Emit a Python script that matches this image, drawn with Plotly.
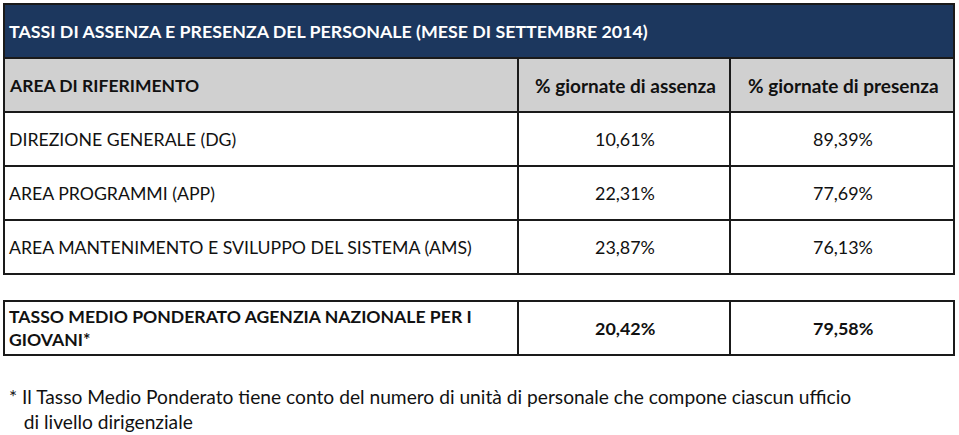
import plotly.graph_objects as go

# ---- data ----
title = "TASSI DI ASSENZA E PRESENZA DEL PERSONALE (MESE DI SETTEMBRE 2014)"
headers = ["AREA DI RIFERIMENTO", "% giornate di assenza", "% giornate di presenza"]
areas = ["DIREZIONE GENERALE (DG)", "AREA PROGRAMMI (APP)",
         "AREA MANTENIMENTO E SVILUPPO DEL SISTEMA (AMS)"]
assenza = [10.61, 22.31, 23.87]
presenza = [89.39, 77.69, 76.13]
total_label = "TASSO MEDIO PONDERATO AGENZIA NAZIONALE PER I<br>GIOVANI*"
total_assenza = 20.42
total_presenza = 79.58
footnote = ("* Il Tasso Medio Ponderato tiene conto del numero di unità di personale che compone ciascun ufficio"
            "<br>   di livello dirigenziale")

def pct(v):
    return f"{v:.2f}".replace(".", ",") + "%"

# ---- layout geometry (pixels) ----
W, H = 959, 435
X0, X1, X2, X3 = 4, 518, 730, 954
Y_TITLE = (4, 58)
Y_HEAD = (58, 112)
ROW_H = 54
Y_DATA0 = 112
Y_TOT = (301, 355)
FONT = "Lato, Open Sans, sans-serif"
FS_CAPS = 17.7
FS_NUM = 17.9
FS_LOW = 19
NAVY = "#1c375e"
GRAY = "#d0d0d0"
LINE = "#1a1a1a"

fig = go.Figure()
shapes = []
ann = []

def rect(x0, y0, x1, y1, fill):
    shapes.append(dict(type="rect", xref="x", yref="y", x0=x0, x1=x1, y0=y0, y1=y1,
                       fillcolor=fill, line=dict(color=LINE, width=2), layer="below"))

def text(x, y, s, anchor="left", bold=False, color="#111", size=FS_CAPS):
    if bold:
        s = f"<b>{s}</b>"
    ann.append(dict(x=x, y=y, xref="x", yref="y", text=s, showarrow=False,
                    xanchor=anchor, yanchor="middle", align=anchor,
                    font=dict(family=FONT, size=size, color=color)))

c2 = (X1 + X2) / 2 + 1
c3 = (X2 + X3) / 2 + 1

# title row
rect(X0, Y_TITLE[0], X3, Y_TITLE[1], NAVY)
text(X0 + 3, sum(Y_TITLE) / 2, title, bold=True, color="white", size=17.8)

# header row
for xa, xb in [(X0, X1), (X1, X2), (X2, X3)]:
    rect(xa, Y_HEAD[0], xb, Y_HEAD[1], GRAY)
ym = sum(Y_HEAD) / 2
text(X0 + 3, ym, headers[0], bold=True, size=17.5)
text(c2, ym, headers[1], anchor="center", bold=True, size=FS_LOW)
text(c3, ym, headers[2], anchor="center", bold=True, size=FS_LOW)

# data rows
for i, (a, s, p) in enumerate(zip(areas, assenza, presenza)):
    ya = Y_DATA0 + i * ROW_H
    yb = ya + ROW_H
    for xa, xb in [(X0, X1), (X1, X2), (X2, X3)]:
        rect(xa, ya, xb, yb, "white")
    ym = (ya + yb) / 2
    text(X0 + 3, ym, a)
    text(c2, ym, pct(s), anchor="center", size=FS_NUM)
    text(c3, ym, pct(p), anchor="center", size=FS_NUM)

# total row
for xa, xb in [(X0, X1), (X1, X2), (X2, X3)]:
    rect(xa, Y_TOT[0], xb, Y_TOT[1], "white")
ym = sum(Y_TOT) / 2
text(X0 + 3, ym, total_label, bold=True, size=17.6)
text(c2, ym, pct(total_assenza), anchor="center", bold=True, size=FS_NUM)
text(c3, ym, pct(total_presenza), anchor="center", bold=True, size=FS_NUM)

# footnote
text(X0 + 3, 409, footnote, size=19.2)

fig.update_layout(
    width=W, height=H, margin=dict(l=0, r=0, t=0, b=0),
    paper_bgcolor="white", plot_bgcolor="white",
    xaxis=dict(range=[0, W], visible=False, fixedrange=True),
    yaxis=dict(range=[H, 0], visible=False, fixedrange=True),
    shapes=shapes, annotations=ann, showlegend=False,
)
fig.write_html("out.html", config={"displayModeBar": False},
               post_script="document.body.style.margin='0';document.body.style.overflow='hidden';")
